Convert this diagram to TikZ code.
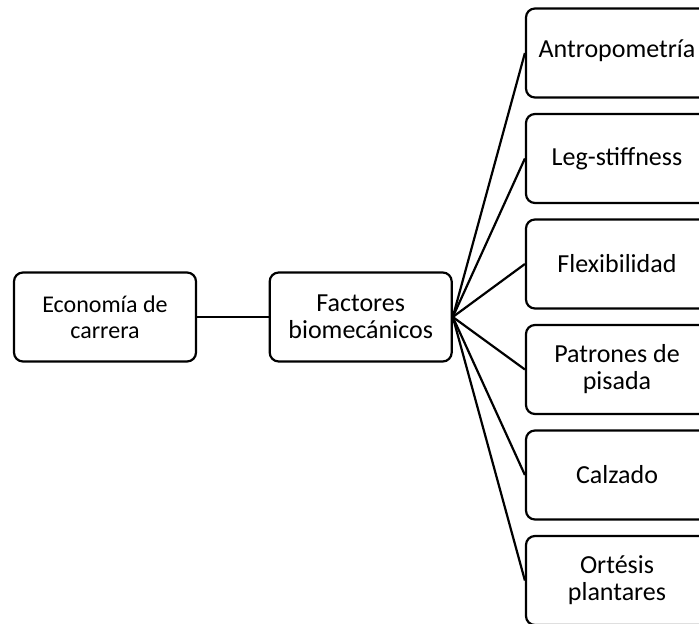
\documentclass[tikz,border=0pt]{standalone}
\usepackage{fontspec}
\setmainfont{Carlito}
\usetikzlibrary{positioning}
\tikzset{
    box/.style={draw, rounded corners=9pt, line width=2.2pt, minimum width=182pt, minimum height=89pt, inner sep=0pt, align=center, font=\fontsize{26}{27}\selectfont},
    smallbox/.style={box, font=\fontsize{24}{26}\selectfont},
    link/.style={line width=2.2pt},
    node distance=71.5pt
}
\begin{document}
\begin{tikzpicture}
			\clip (0,0) rectangle (699pt,-624pt);
			\node[smallbox] (econ) at (105pt,-317pt) {Economía de\\carrera};
			\node[box, right = of econ] (fact) {Factores\\biomecánicos};
			\node[box] (antro) at (617pt,-53pt) {\raisebox{8pt}{Antropometría}};
			\node[box, below = 14.3pt of antro] (leg) {Leg-stiffness};
			\node[box, below = 14.3pt of leg] (flex) {Flexibilidad};
			\node[box, below = 14.3pt of flex] (pisada) {Patrones de\\pisada};
			\node[box, below = 14.3pt of pisada] (calz) {Calzado};
			\node[box, below = 14.3pt of calz] (ortesis) {Ortésis\\plantares};

			\draw[link] (econ) -- (fact);
			\foreach \n in {antro,leg,flex,pisada,calz,ortesis}
				\draw[link] (fact.east) -- (\n.west);
		\end{tikzpicture}
\end{document}
